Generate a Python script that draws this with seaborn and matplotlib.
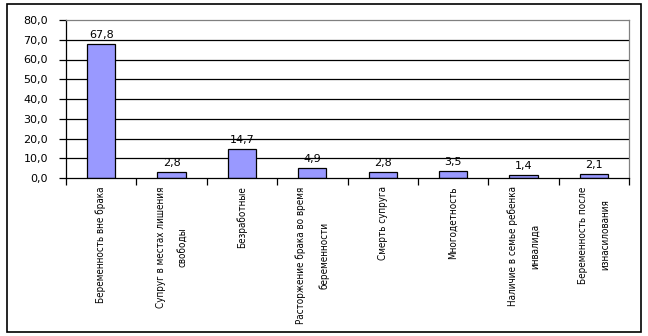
import matplotlib
matplotlib.use("Agg")
import matplotlib.pyplot as plt
import seaborn as sns
import pandas as pd
from matplotlib.patches import Rectangle

categories = [
    "Беременность вне брака",
    "Супруг в местах лишения\nсвободы",
    "Безработные",
    "Расторжение брака во время\nбеременности",
    "Смерть супруга",
    "Многодетность",
    "Наличие в семье ребенка\nинвалида",
    "Беременность после\nизнасилования",
]
values = [67.8, 2.8, 14.7, 4.9, 2.8, 3.5, 1.4, 2.1]
y_ticks = [0, 10, 20, 30, 40, 50, 60, 70, 80]

sns.set_style("white")
plt.rcParams['font.family'] = ['DejaVu Sans']
plt.rcParams['text.color'] = 'black'
plt.rcParams['xtick.color'] = 'black'
plt.rcParams['ytick.color'] = 'black'

df = pd.DataFrame({"cat": categories, "val": values})

fig = plt.figure(figsize=(6.48, 3.36), dpi=100)
W, H = 648, 336
ax = fig.add_axes([66 / W, 1 - 178 / H, (629 - 66) / W, (178 - 20) / H])

sns.barplot(data=df, x="cat", y="val", color="#9999FF", saturation=1,
            width=0.4, edgecolor="black", linewidth=0.9, ax=ax)

ax.set_xlim(-0.5, len(categories) - 0.5)
ax.set_ylim(0, 80)
ax.set_yticks(y_ticks)
ax.set_yticklabels([f"{v:.1f}".replace(".", ",") for v in y_ticks], fontsize=8)
for v in y_ticks[1:-1]:
    ax.axhline(v, color="black", linewidth=0.9, zorder=0)

ax.set_xticks(range(len(categories)))
ax.set_xticklabels(categories, rotation=90, ha="center", va="top",
                   multialignment="center", linespacing=2.5, fontsize=7.1,
                   fontstretch="condensed", color="black")
ax.set_xticks([i - 0.5 for i in range(len(categories) + 1)], minor=True)
ax.tick_params(axis="x", which="major", length=0, pad=6)
ax.tick_params(axis="x", which="minor", length=5, width=0.9, color="black",
               direction="out", bottom=True)
ax.tick_params(axis="y", length=5, width=0.9, color="black", direction="out",
               left=True, pad=8)
ax.set_xlabel("")
ax.set_ylabel("")

for s in ["left", "bottom"]:
    ax.spines[s].set_color("black")
    ax.spines[s].set_linewidth(0.9)
for s in ["top", "right"]:
    ax.spines[s].set_color("#808080")
    ax.spines[s].set_linewidth(0.9)

for i, v in enumerate(values):
    ax.annotate(f"{v:.1f}".replace(".", ","), (i, v), xytext=(0, 3),
                textcoords="offset points", ha="center", va="bottom",
                fontsize=8, color="black")

fig.patches.append(Rectangle((7 / W, 1 - 332 / H), (641 - 7) / W, (332 - 4) / H,
                             transform=fig.transFigure, fill=False,
                             edgecolor="black", linewidth=1.2))

fig.savefig("out.png", dpi=100)
